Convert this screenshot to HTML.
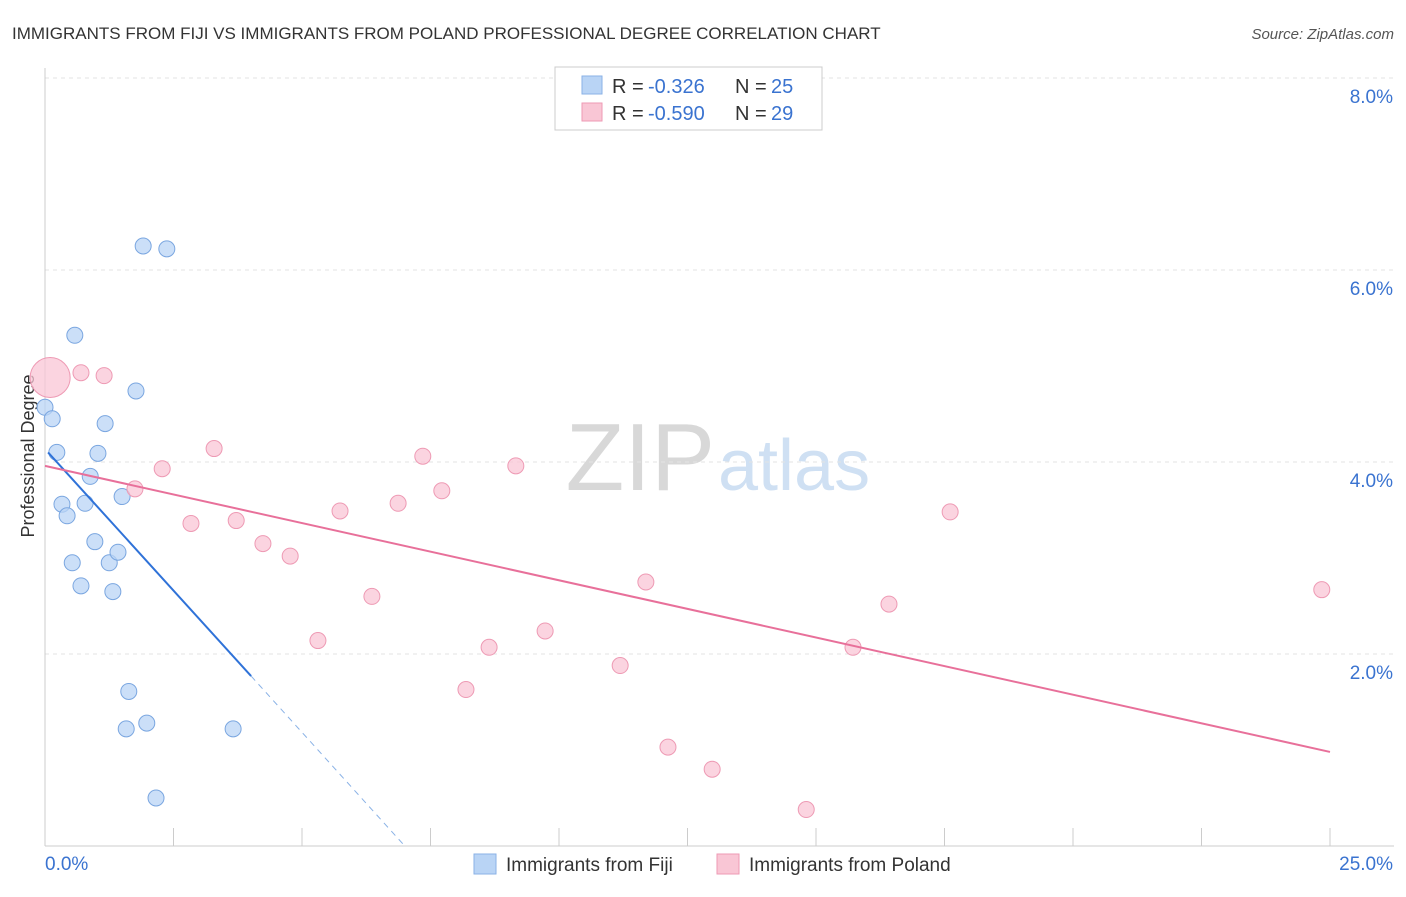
<!DOCTYPE html>
<html><head><meta charset="utf-8"><style>
body{margin:0;background:#fff;font-family:"Liberation Sans",sans-serif}
svg text{font-family:"Liberation Sans",sans-serif}
</style></head><body>
<svg id="c" width="1406" height="892">
<text x="12" y="39" font-size="17" fill="#333">IMMIGRANTS FROM FIJI VS IMMIGRANTS FROM POLAND PROFESSIONAL DEGREE CORRELATION CHART</text>
<text x="1394" y="39" font-size="15" fill="#555" font-style="italic" text-anchor="end">Source: ZipAtlas.com</text>
<text x="715" y="490" font-size="96" fill="#d8d8d8" text-anchor="end" font-family="Liberation Serif">ZIP</text>
<text x="718" y="490" font-size="72" fill="#cfe0f3">atlas</text>
<text transform="translate(34,456) rotate(-90)" font-size="18" fill="#333" text-anchor="middle">Professional Degree</text>
<g id="grid"></g><g id="marks"></g>
<g>
<rect x="555" y="67" width="267" height="63" fill="#fff" stroke="#ccc"/>
<rect x="582" y="76" width="20" height="18" fill="#b9d4f5" stroke="#8ab2e6"/>
<text x="612" y="93" font-size="20" fill="#333">R =</text>
<text x="648" y="93" font-size="20" fill="#3a73d0">-0.326</text>
<text x="735" y="93" font-size="20" fill="#333">N =</text>
<text x="771" y="93" font-size="20" fill="#3a73d0">25</text>
<rect x="582" y="103" width="20" height="18" fill="#f9c6d5" stroke="#ee9ab4"/>
<text x="612" y="120" font-size="20" fill="#333">R =</text>
<text x="648" y="120" font-size="20" fill="#3a73d0">-0.590</text>
<text x="735" y="120" font-size="20" fill="#333">N =</text>
<text x="771" y="120" font-size="20" fill="#3a73d0">29</text>
</g>
<g>
<rect x="474" y="854" width="22" height="20" fill="#b9d4f5" stroke="#8ab2e6"/>
<text x="506" y="871" font-size="19" fill="#333">Immigrants from Fiji</text>
<rect x="717" y="854" width="22" height="20" fill="#f9c6d5" stroke="#ee9ab4"/>
<text x="749" y="871" font-size="19" fill="#333">Immigrants from Poland</text>
</g>
</svg>
<script>
const yTicks=[2,4,6,8];
const yTickLabels=["2.0%","4.0%","6.0%","8.0%"];
const xTicks=[0,2.5,5,7.5,10,12.5,15,17.5,20,22.5,25];
const xEndLabels=["0.0%","25.0%"];
const fijiX=[0,0.14,0.23,0.58,1.91,2.37,1.77,1.17,1.03,0.88,0.33,0.43,0.78,1.50,0.97,0.53,1.25,1.42,0.70,1.32,1.63,1.58,1.98,3.66,2.16];
const fijiY=[4.57,4.45,4.10,5.32,6.25,6.22,4.74,4.40,4.09,3.85,3.56,3.44,3.57,3.64,3.17,2.95,2.95,3.06,2.71,2.65,1.61,1.22,1.28,1.22,0.50];
const polX=[0.10,0.70,1.15,3.29,2.28,1.75,2.84,3.72,4.24,4.77,5.31,5.74,6.36,6.87,7.35,7.72,8.19,8.64,9.16,9.73,11.19,11.69,12.12,12.98,14.81,15.72,16.42,17.61,24.84];
const polY=[4.88,4.93,4.90,4.14,3.93,3.72,3.36,3.39,3.15,3.02,2.14,3.49,2.60,3.57,4.06,3.70,1.63,2.07,3.96,2.24,1.88,2.75,1.03,0.80,0.38,2.07,2.52,3.48,2.67];
const fijiTrend=[[0.06,4.10],[4.01,1.77],[7.0,0]];
const polTrend=[[0,3.96],[25,0.98]];
const X=v=>45+v*51.4, Y=v=>846-v*96;
const NS="http://www.w3.org/2000/svg";
function mk(p,t,a){const e=document.createElementNS(NS,t);for(const k in a)e.setAttribute(k,a[k]);p.appendChild(e);return e;}
const g=document.getElementById('grid'), m=document.getElementById('marks');
yTicks.forEach((t,i)=>{
 const l=mk(g,'line',{x1:45,x2:1394,y1:Y(t),y2:Y(t),stroke:'#e3e3e3','stroke-dasharray':'4,4'});
 
 
 const tx=mk(g,'text',{x:1393,y:Y(t)+25,'font-size':19,fill:'#3a73d0','text-anchor':'end'});tx.textContent=yTickLabels[i];
 
 
});
const ax=mk(g,'line',{x1:45,x2:1394,y1:846,y2:846,stroke:'#ccc'});


const ay=mk(g,'line',{x1:45,x2:45,y1:68,y2:846,stroke:'#ccc'});


xTicks.forEach(t=>{const l=mk(g,'line',{x1:X(t),x2:X(t),y1:828,y2:846,stroke:'#ccc'});
 
 });
[[0,'start',45],[25,'end',1393]].forEach((d,i)=>{const tx=mk(g,'text',{x:d[2],y:870,'font-size':19,fill:'#3a73d0','text-anchor':d[1]});tx.textContent=xEndLabels[i];
 
 });
fijiX.forEach((v,i)=>{const c=mk(m,'circle',{cx:X(v),cy:Y(fijiY[i]),r:8,fill:'#b9d4f5','fill-opacity':0.75,stroke:'#7aa6e0'});
 
 });
polX.forEach((v,i)=>{const c=mk(m,'circle',{cx:X(v),cy:Y(polY[i]),r:i==0?20:8,fill:'#f9c6d5','fill-opacity':0.75,stroke:'#ee9ab4'});
 
 });
const f1=mk(m,'line',{x1:X(fijiTrend[0][0]),y1:Y(fijiTrend[0][1]),x2:X(fijiTrend[1][0]),y2:Y(fijiTrend[1][1]),stroke:'#2f72d8','stroke-width':2});


const f2=mk(m,'line',{x1:X(fijiTrend[1][0]),y1:Y(fijiTrend[1][1]),x2:X(fijiTrend[2][0]),y2:Y(fijiTrend[2][1]),stroke:'#8ab2e6','stroke-width':1,'stroke-dasharray':'6,5'});


const p1=mk(m,'line',{x1:X(polTrend[0][0]),y1:Y(polTrend[0][1]),x2:X(polTrend[1][0]),y2:Y(polTrend[1][1]),stroke:'#e8709a','stroke-width':2});


</script>
</body></html>
